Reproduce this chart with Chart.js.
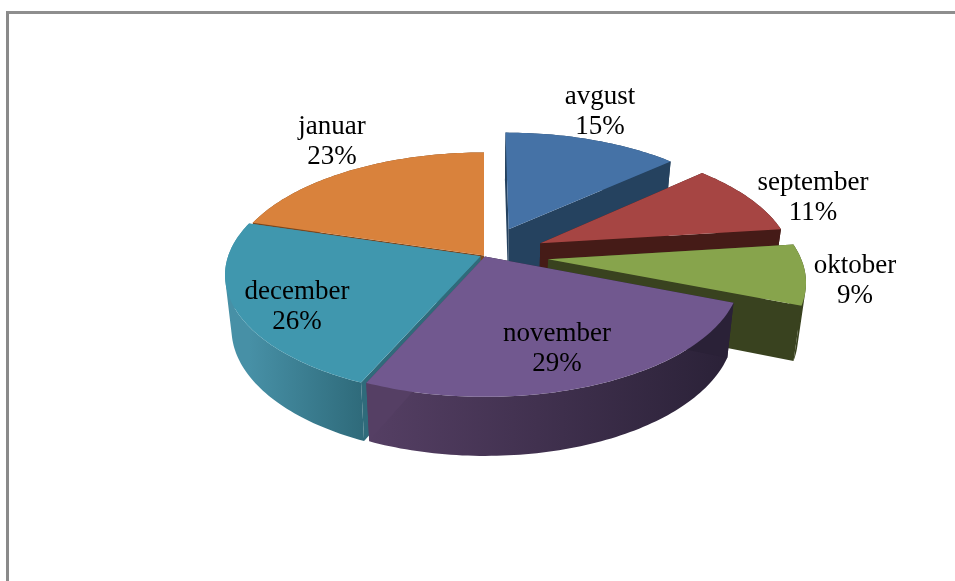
<!DOCTYPE html>
<html>
<head>
<meta charset="utf-8">
<script src="https://cdn.jsdelivr.net/npm/chart.js@4"></script>
<style>
html,body{margin:0;padding:0;background:#fff;width:955px;height:581px;overflow:hidden}
#frame{position:absolute;left:6px;top:11px;width:949px;height:570px;box-sizing:border-box;border-top:3px solid #8e8e8e;border-left:3px solid #8a8a8a}
#wrap{position:absolute;left:0;top:0;width:955px;height:581px}
</style>
</head>
<body>
<div id="frame"></div>
<div id="wrap"><canvas id="c" width="955" height="581"></canvas></div>
<script>
const categories = ['avgust', 'september', 'oktober', 'november', 'december', 'januar'];
const values = [15, 11, 9, 29, 26, 23];
const explode = [0.25, 0.25, 0.255, 0.009, 0.016, 0];
const topColors = ['#4572a6', '#a64543', '#87a44c', '#71588f', '#4097ae', '#d9823c'];
const wallStart = ['#25425f', '#451b17', '#39421f', '#2a2137', '#2f6b7b', '#7a4820'];
const wallEnd = ['#25425f', '#451b17', '#39421f', '#553f64', '#4790a6', '#7a4820'];
const paintOrder = [0, 1, 2, 5, 4, 3];

const RADIUS = 200;
const VIEW = {cx: 484, cy: 255.5, a: 252, s: 118.7, k: 0.152, g: 0.975, d: 53};
const FONT = {size: 27, lineHeight: 30, family: '"Liberation Serif","Times New Roman",serif'};
const labelCentres = [[600, 97], [813, 183], [855, 266], [557, 334], [297, 292], [332, 127]];

function project(u, v, low) {
  const w = 1 - VIEW.k * v;
  const g = low ? VIEW.g : 1;
  return [
    VIEW.cx + VIEW.a * g * u / w,
    VIEW.cy + VIEW.s * g * v / w + (low ? VIEW.d / w : 0)
  ];
}

const pie3d = {
  id: 'pie3d',
  beforeDatasetDraw() { return false; },
  afterDatasetsDraw(chart) {
    const ctx = chart.ctx;
    const arcs = chart.getDatasetMeta(0).data;
    paintOrder.forEach(i => {
      const el = arcs[i];
      const {startAngle, endAngle} = el.getProps(['startAngle', 'endAngle'], true);
      const mid = (startAngle + endAngle) / 2;
      const off = el.options.offset / 4 / RADIUS;
      const ox = Math.cos(mid) * off, oy = Math.sin(mid) * off;
      const at = (ang, low) => project(ox + Math.cos(ang), oy + Math.sin(ang), low);
      const steps = Math.max(8, Math.ceil((endAngle - startAngle) / 0.02));
      const rim = low => {
        const pts = [];
        for (let n = 0; n <= steps; n++) pts.push(at(startAngle + (endAngle - startAngle) * n / steps, low));
        return pts;
      };
      const trace = pts => {
        let area = 0;
        pts.forEach((p, n) => {
          const q = pts[(n + 1) % pts.length];
          area += p[0] * q[1] - q[0] * p[1];
        });
        const list = area < 0 ? pts.slice().reverse() : pts;
        list.forEach((p, n) => n ? ctx.lineTo(p[0], p[1]) : ctx.moveTo(p[0], p[1]));
        ctx.closePath();
      };
      const poly = (pts, fill) => {
        ctx.beginPath();
        trace(pts);
        ctx.fillStyle = fill;
        ctx.fill();
      };
      const top = rim(false), low = rim(true);
      const hub = project(ox, oy, false), hubLow = project(ox, oy, true);
      const startWall = [hub, top[0], low[0], hubLow];
      const endWall = [hub, top[steps], low[steps], hubLow];
      const grad = ctx.createLinearGradient(top[0][0], 0, top[steps][0], 0);
      grad.addColorStop(0, wallStart[i]);
      grad.addColorStop(1, wallEnd[i]);
      ctx.beginPath();
      for (let n = 0; n < steps; n++) {
        trace([top[n], top[n + 1], low[n + 1], low[n]]);
      }
      ctx.fillStyle = grad;
      ctx.fill('nonzero');
      if (top[0][1] > top[steps][1]) {
        poly(endWall, wallEnd[i]);
        poly(startWall, wallStart[i]);
      } else {
        poly(startWall, wallStart[i]);
        poly(endWall, wallEnd[i]);
      }
      poly([hub].concat(top), topColors[i]);
    });
    ctx.save();
    ctx.fillStyle = '#000';
    ctx.font = FONT.size + 'px ' + FONT.family;
    ctx.textAlign = 'center';
    ctx.textBaseline = 'middle';
    categories.forEach((name, i) => {
      const [x, y] = labelCentres[i];
      ctx.fillText(name, x, y);
      ctx.fillText(values[i] + '%', x, y + FONT.lineHeight);
    });
    ctx.restore();
  }
};

new Chart(document.getElementById('c'), {
  type: 'pie',
  data: {
    labels: categories,
    datasets: [{
      data: values,
      backgroundColor: topColors,
      borderWidth: 0,
      radius: RADIUS,
      offset: explode.map(f => f * 4 * RADIUS)
    }]
  },
  options: {
    responsive: false,
    animation: false,
    rotation: 0,
    plugins: {legend: {display: false}, tooltip: {enabled: false}}
  },
  plugins: [pie3d]
});
</script>
</body>
</html>
